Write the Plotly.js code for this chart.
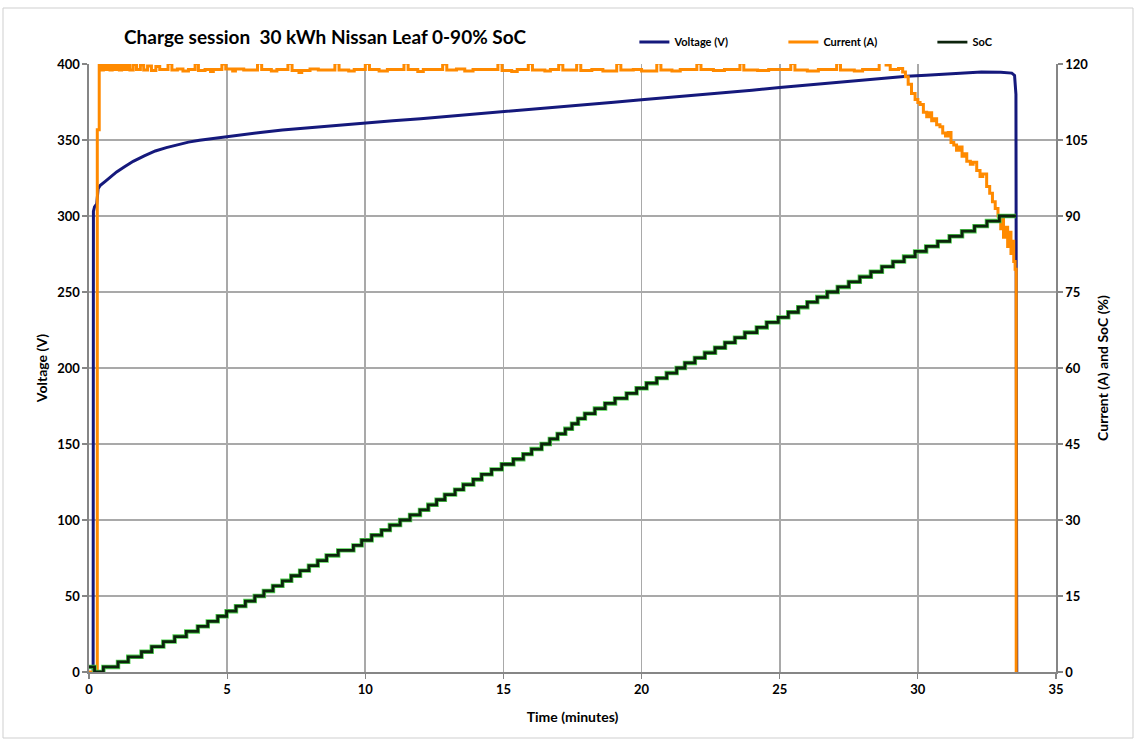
<!DOCTYPE html>
<html>
<head>
<meta charset="utf-8">
<script src="https://cdn.plot.ly/plotly-3.0.1.min.js"></script>
<style>
  html, body { margin: 0; padding: 0; background: #ffffff; }
  #chart { width: 1137px; height: 742px; }
</style>
</head>
<body>
<div id="chart"></div>
<script>
// ---- Data ----
// Voltage (V) vs time (minutes)
const voltageTime = [0.15, 0.16, 0.2, 0.28, 0.33, 0.4, 0.6, 0.8, 1.0, 1.3, 1.6, 2.0, 2.4, 2.8, 3.2, 3.6, 4.0, 4.5, 5.0, 5.6, 6.2, 7.0, 8.0, 9.0, 10.0, 11.0, 12.0, 13.0, 14.0, 15.0, 16.0, 17.0, 18.0, 19.0, 20.0, 21.0, 22.0, 23.0, 24.0, 25.0, 26.0, 27.0, 28.0, 29.0, 29.6, 30.3, 31.0, 31.6, 32.3, 33.0, 33.4, 33.5, 33.55, 33.58];
const voltageValue = [0, 303, 306, 308, 318, 320, 323, 326, 329, 332.5, 336, 339.5, 342.8, 345, 347, 348.6, 349.8, 351.0, 352.3, 353.8, 355.0, 356.6, 358.2, 359.7, 361.2, 362.6, 364.0, 365.5, 367.0, 368.6, 370.1, 371.7, 373.3, 374.9, 376.5, 378.0, 379.6, 381.2, 382.8, 384.6, 386.2, 387.8, 389.3, 390.8, 392.0, 392.6, 393.4, 394.4, 394.8, 394.6, 394.0, 392.5, 380, 0];

// Current (A) vs time (minutes)
const currentTime = [0.0, 0.3, 0.37, 0.44, 0.52, 0.6, 0.68, 0.76, 0.84, 0.92, 1.0, 1.1, 1.18, 1.28, 1.38, 1.48, 1.6, 1.72, 1.86, 1.98, 2.12, 2.26, 2.42, 2.56, 2.86, 3.0, 3.2, 3.4, 3.6, 3.84, 3.96, 4.2, 4.4, 4.5, 4.81, 4.95, 5.2, 5.3, 5.6, 6.1, 6.25, 6.6, 6.8, 7.2, 7.35, 7.6, 7.7, 8.0, 8.3, 8.9, 9.05, 9.4, 9.6, 10.0, 10.15, 10.5, 10.8, 11.4, 11.55, 11.9, 12.1, 12.8, 12.95, 13.3, 13.6, 13.9, 14.8, 14.95, 15.3, 15.5, 15.9, 16.05, 16.5, 16.7, 17.0, 17.15, 17.65, 17.8, 18.2, 18.6, 19.1, 19.25, 19.7, 20.0, 20.55, 20.7, 21.1, 21.4, 22.0, 22.15, 22.6, 23.0, 23.56, 23.7, 24.2, 24.6, 25.4, 25.55, 26.0, 26.4, 27.06, 27.2, 27.7, 28.0, 28.6, 28.85, 29.0, 29.3, 29.45, 29.55, 29.65, 29.77, 29.9, 30.0, 30.08, 30.2, 30.32, 30.42, 30.5, 30.6, 30.68, 30.8, 30.9, 31.0, 31.1, 31.2, 31.3, 31.4, 31.5, 31.6, 31.7, 31.77, 31.9, 32.0, 32.13, 32.25, 32.35, 32.49, 32.6, 32.7, 32.8, 32.9, 33.0, 33.05, 33.1, 33.18, 33.25, 33.3, 33.37, 33.42, 33.47, 33.52, 33.56];
const currentValue = [0, 107, 120.2, 118.8, 120.2, 118.9, 120.2, 118.8, 120.1, 118.9, 120.2, 118.8, 120.1, 118.9, 120.0, 118.8, 119.9, 118.9, 119.8, 118.8, 119.6, 118.7, 119.5, 118.9, 120.1, 118.8, 119.0, 118.6, 118.9, 120.1, 118.7, 118.9, 118.5, 118.9, 120.0, 119.0, 118.6, 119.0, 118.8, 120.2, 118.9, 118.6, 118.9, 120.1, 118.7, 118.3, 118.7, 119.0, 118.8, 120.2, 118.8, 118.6, 118.9, 120.1, 118.9, 118.6, 118.9, 120.2, 118.9, 118.5, 118.9, 120.0, 118.8, 119.0, 118.6, 118.9, 120.2, 118.7, 118.5, 118.9, 120.1, 118.8, 118.6, 118.9, 120.0, 118.8, 120.2, 118.7, 118.9, 118.6, 120.1, 118.8, 118.9, 118.6, 120.2, 118.8, 118.6, 118.9, 120.1, 118.9, 118.7, 118.9, 120.2, 118.8, 118.7, 118.9, 120.1, 118.8, 118.6, 118.9, 120.2, 118.8, 118.6, 118.9, 120.3, 119.8, 118.9, 119.1, 118.4, 117.5, 116.0, 114.2, 113.0, 112.4, 112.0, 110.5, 109.6, 110.4, 108.8, 109.2, 108.0, 107.6, 106.4, 105.8, 106.5, 104.5, 104.0, 103.0, 103.6, 101.8, 102.3, 100.8, 100.2, 100.6, 99.0, 97.8, 98.3, 95.8, 94.5, 92.8, 91.5, 90.0, 87.5, 89.5, 85.8, 87.8, 84.0, 86.8, 82.6, 85.0, 81.0, 79.5, 0];

// State of charge (%) vs time (minutes), displayed in 1% steps
const socTime = [0.0, 0.2, 0.52, 1.05, 1.42, 1.9, 2.27, 2.69, 3.1, 3.52, 3.94, 4.3, 4.66, 4.98, 5.32, 5.66, 6.0, 6.33, 6.66, 7.0, 7.32, 7.64, 7.96, 8.28, 8.6, 9.02, 9.57, 9.87, 10.23, 10.59, 10.89, 11.26, 11.62, 11.98, 12.28, 12.58, 12.88, 13.25, 13.55, 13.91, 14.21, 14.57, 14.94, 15.36, 15.72, 16.02, 16.38, 16.68, 16.96, 17.24, 17.48, 17.7, 17.95, 18.31, 18.68, 19.04, 19.46, 19.82, 20.18, 20.55, 20.91, 21.27, 21.57, 21.93, 22.29, 22.66, 23.02, 23.38, 23.74, 24.17, 24.53, 24.95, 25.31, 25.67, 26.0, 26.36, 26.72, 27.1, 27.5, 27.9, 28.3, 28.7, 29.1, 29.5, 29.9, 30.3, 30.72, 31.15, 31.6, 32.05, 32.5, 32.95, 33.55];
const socValue = [1, 0, 1, 2, 3, 4, 5, 6, 7, 8, 9, 10, 11, 12, 13, 14, 15, 16, 17, 18, 19, 20, 21, 22, 23, 24, 25, 26, 27, 28, 29, 30, 31, 32, 33, 34, 35, 36, 37, 38, 39, 40, 41, 42, 43, 44, 45, 46, 47, 48, 49, 50, 51, 52, 53, 54, 55, 56, 57, 58, 59, 60, 61, 62, 63, 64, 65, 66, 67, 68, 69, 70, 71, 72, 73, 74, 75, 76, 77, 78, 79, 80, 81, 82, 83, 84, 85, 86, 87, 88, 89, 90, 90];

// Labels
const chartTitle = "Charge session  30 kWh Nissan Leaf 0-90% SoC";
const seriesNames = ["Voltage (V)", "Current (A)", "SoC"];
const xTitle = "Time (minutes)";
const yTitle = "Voltage (V)";
const y2Title = "Current (A) and SoC (%)";

// ---- Chart ----
const FONT = "Lato, 'Liberation Sans Narrow', Arial, sans-serif";
const GRID = "#a9a9a9";
const AXIS = "#868686";

const traces = [
  {
    x: voltageTime, y: voltageValue, name: seriesNames[0], type: "scatter", mode: "lines",
    line: {color: "#15197c", width: 3}, yaxis: "y"
  },
  {
    x: currentTime, y: currentValue, name: seriesNames[1], type: "scatter", mode: "lines",
    line: {color: "#ff8a00", width: 3, shape: "hv"}, yaxis: "y2"
  },
  {
    x: socTime, y: socValue, name: seriesNames[2], type: "scatter", mode: "lines",
    line: {color: "#4fd04f", width: 4.4, shape: "hv"}, yaxis: "y2", showlegend: false, hoverinfo: "skip"
  },
  {
    x: socTime, y: socValue, name: seriesNames[2], type: "scatter", mode: "lines",
    line: {color: "#0c240c", width: 2.8, shape: "hv"}, yaxis: "y2"
  }
];

const layout = {
  width: 1137, height: 742,
  paper_bgcolor: "#ffffff", plot_bgcolor: "#ffffff",
  margin: {l: 89, r: 81, t: 64, b: 70, pad: 0},
  font: {family: FONT, color: "#000000"},
  title: {
    text: chartTitle, font: {family: FONT, size: 19, color: "#000000", weight: "bold"},
    x: 124 / 1137, xanchor: "left", xref: "container",
    y: 1 - 37 / 742, yanchor: "middle", yref: "container"
  },
  showlegend: true,
  legend: {
    orientation: "h", x: 0.564, xanchor: "left", y: 1.036, yanchor: "middle",
    font: {family: FONT, size: 11, color: "#000000", weight: "bold"},
    entrywidth: 104, entrywidthmode: "pixels", bgcolor: "rgba(0,0,0,0)", borderwidth: 0,
    traceorder: "normal"
  },
  xaxis: {
    range: [0, 35], dtick: 5, tick0: 0,
    showgrid: true, gridcolor: GRID, gridwidth: 1.6,
    showline: true, linecolor: AXIS, linewidth: 1.6,
    ticks: "outside", ticklen: 5, tickcolor: AXIS, tickwidth: 1.2,
    zeroline: false,
    tickfont: {family: FONT, size: 13, color: "#000000", weight: "bold"},
    title: {text: xTitle, font: {family: FONT, size: 14, color: "#000000", weight: "bold"}, standoff: 16}
  },
  yaxis: {
    range: [0, 400], dtick: 50, tick0: 0,
    showgrid: true, gridcolor: GRID, gridwidth: 1.6,
    showline: true, linecolor: AXIS, linewidth: 1.6,
    ticks: "outside", ticklen: 5, tickcolor: AXIS, tickwidth: 1.2,
    zeroline: false,
    tickfont: {family: FONT, size: 13, color: "#000000", weight: "bold"},
    title: {text: yTitle, font: {family: FONT, size: 14, color: "#000000", weight: "bold"}, standoff: 6}
  },
  yaxis2: {
    range: [0, 120], dtick: 15, tick0: 0, overlaying: "y", side: "right",
    showgrid: false,
    showline: true, linecolor: AXIS, linewidth: 1.6,
    ticks: "outside", ticklen: 5, tickcolor: AXIS, tickwidth: 1.2,
    zeroline: false,
    tickfont: {family: FONT, size: 13, color: "#000000", weight: "bold"},
    title: {text: y2Title, font: {family: FONT, size: 14, color: "#000000", weight: "bold"}, standoff: 11}
  },
  shapes: [
    {type: "rect", xref: "paper", yref: "paper",
     x0: (3 - 89) / 967, x1: (1133 - 89) / 967, y0: (672 - 738) / 608, y1: (672 - 8) / 608,
     line: {color: "#cfcfcf", width: 1}, fillcolor: "rgba(0,0,0,0)", layer: "below"}
  ]
};

Plotly.newPlot("chart", traces, layout, {displayModeBar: false, staticPlot: true});
</script>
</body>
</html>
